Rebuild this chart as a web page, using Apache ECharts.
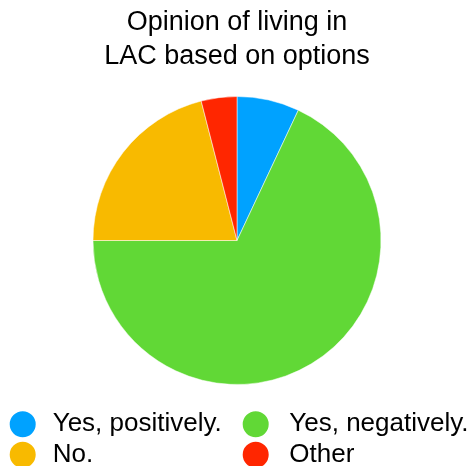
<!DOCTYPE html>
<html><head><meta charset="utf-8">
<script src="https://cdn.jsdelivr.net/npm/echarts@6/dist/echarts.min.js"></script>
<style>html,body{margin:0;padding:0;background:#fff}#c{width:469px;height:466px}</style>
</head><body><div id="c"></div>
<script>
const titleText = 'Opinion of living in\nLAC based on options';
const categories = ['Yes, positively.', 'Yes, negatively.', 'No.', 'Other'];
const values = [7, 68, 21, 4];
const colors = ['#00A2FF', '#61D836', '#F8BA00', '#FF2600'];

const font = '"Liberation Sans", Arial, Helvetica, sans-serif';
const chart = echarts.init(document.getElementById('c'));
const legendCommon = {
  orient: 'vertical', top: 409, height: 70, padding: 0, itemGap: 0,
  itemWidth: 28, itemHeight: 28, icon: 'circle',
  textStyle: { fontFamily: font, fontSize: 26, color: '#000', lineHeight: 30.5 }
};
chart.setOption({
  animation: false,
  color: colors,
  title: {
    text: titleText, left: 237, top: 6, padding: 0,
    textAlign: 'center',
    textStyle: { fontFamily: font, fontSize: 27, fontWeight: 'normal', color: '#000', lineHeight: 34 }
  },
  legend: [
    Object.assign({}, legendCommon, { left: 7.7, data: [categories[0], categories[2]],
      textStyle: Object.assign({}, legendCommon.textStyle, { padding: [0, 0, 0, 11] }) }),
    Object.assign({}, legendCommon, { left: 240.7, data: [categories[1], categories[3]],
      textStyle: Object.assign({}, legendCommon.textStyle, { padding: [0, 0, 0, 14.6] }) })
  ],
  series: [{
    type: 'pie', center: [237, 240.5], radius: 144, startAngle: 90, clockwise: true,
    label: { show: false }, labelLine: { show: false }, silent: true,
    itemStyle: { borderColor: '#fff', borderWidth: 0.5 },
    data: categories.map((n, i) => ({ name: n, value: values[i] }))
  }]
});
</script></body></html>
